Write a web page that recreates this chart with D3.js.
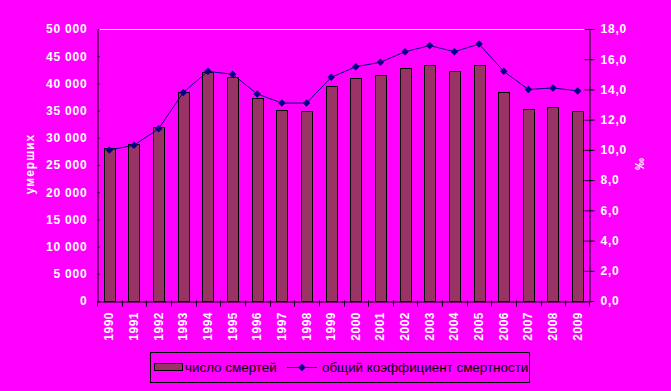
<!DOCTYPE html>
<html><head><meta charset="utf-8">
<script src="https://cdn.jsdelivr.net/npm/d3@7"></script>
<style>
html,body{margin:0;padding:0;background:#FF00FF;}
svg{display:block;}
text{font-family:Arial,"Liberation Sans",sans-serif;}
</style></head><body>
<svg id="c" width="671" height="391"></svg>
<script>
const years = ["1990","1991","1992","1993","1994","1995","1996","1997","1998","1999","2000","2001","2002","2003","2004","2005","2006","2007","2008","2009"];
const deaths = [28100,28900,32000,38400,42100,41200,37400,35200,35000,39500,41000,41500,42900,43400,42300,43300,38500,35300,35700,35000];
const rate = [10.0,10.3,11.4,13.8,15.2,15.0,13.7,13.1,13.1,14.8,15.5,15.8,16.5,16.9,16.5,17.0,15.2,14.0,14.1,13.9];
const leftTicks = [0,5000,10000,15000,20000,25000,30000,35000,40000,45000,50000];
const rightTicks = [0,2,4,6,8,10,12,14,16,18];
const seriesNames = ["число смертей","общий коэффициент смертности"];
const leftTitle = "умерших", rightTitle = "‰";

const svg = d3.select("#c");
const L=97, R=590, T=29, B=301;
const x = d3.scaleBand().domain(years).range([L,R]).paddingInner(0.55).paddingOuter(0.275);
const xb = d3.scaleBand().domain(years).range([L,R]);
const yL = d3.scaleLinear().domain([0,50000]).range([B,T]);
const yR = d3.scaleLinear().domain([0,18]).range([B,T]);

// top border
svg.append("line").attr("x1",L).attr("x2",R).attr("y1",T+0.5).attr("y2",T+0.5).attr("stroke","#fff");

// bars
svg.append("g").selectAll("rect").data(years).join("rect")
 .attr("x",d=>Math.round(x(d))+0.5).attr("y",(d,i)=>Math.round(yL(deaths[i]))+0.5)
 .attr("width",Math.round(x.bandwidth())).attr("height",(d,i)=>B-Math.round(yL(deaths[i])))
 .attr("fill","#993366").attr("stroke","#000").attr("stroke-width",1);

const fmt = v => d3.format(",")(v).replace(/,/g," ");
const fmtR = v => d3.format(".1f")(v).replace(".",",");

// left axis
const gl = svg.append("g").attr("transform",`translate(${L+0.5},0)`)
 .call(d3.axisLeft(yL).tickValues(leftTicks).tickFormat(fmt).tickSize(4).tickSizeOuter(0).tickPadding(6));
gl.selectAll(".tick line").attr("x2",2);
// right axis
const gr = svg.append("g").attr("transform",`translate(${R-0.5},0)`)
 .call(d3.axisRight(yR).tickValues(rightTicks).tickFormat(fmtR).tickSize(5).tickSizeOuter(0).tickPadding(6));
gr.selectAll(".tick line").attr("x1",-5);
// bottom axis
const gb = svg.append("g").attr("transform",`translate(0,${B+0.5})`)
 .call(d3.axisBottom(xb).tickSize(0).tickSizeOuter(0).tickPadding(0));
gb.selectAll(".tick text").remove();
gb.append("g").selectAll("line").data(years.concat(["end"])).join("line")
 .attr("x1",(d,i)=>i<years.length?Math.round(xb(d))+0.5:R-0.5).attr("x2",(d,i)=>i<years.length?Math.round(xb(d))+0.5:R-0.5)
 .attr("y1",-1).attr("y2",5).attr("stroke","#000");
svg.append("g").selectAll("text").data(years).join("text")
 .attr("transform",d=>`translate(${xb(d)+xb.bandwidth()/2+4},${B+11}) rotate(-90)`)
 .attr("text-anchor","end").attr("fill","#fff").attr("font-weight","bold").attr("font-size","12px")
 .attr("letter-spacing","0.5px").text(d=>d);

[gl,gr,gb].forEach(g=>{g.selectAll(".domain").attr("stroke","#000");g.selectAll(".tick line").attr("stroke","#000");
 g.selectAll(".tick text").attr("fill","#fff").attr("font-weight","bold").attr("font-size","12px").attr("letter-spacing","0.8px");});

// line
const cx = d=>xb(d)+xb.bandwidth()/2;
svg.append("path").datum(years).attr("fill","none").attr("stroke","#000080").attr("stroke-width",1)
 .attr("d",d3.line().x(cx).y((d,i)=>yR(rate[i])));
svg.append("g").selectAll("path").data(years).join("path")
 .attr("transform",(d,i)=>`translate(${cx(d)},${yR(rate[i])}) rotate(45)`)
 .attr("d",d3.symbol(d3.symbolSquare,28)).attr("fill","#000080");

// titles
svg.append("text").attr("transform","translate(34,164) rotate(-90)").attr("text-anchor","middle")
 .attr("fill","#fff").attr("font-weight","bold").attr("font-size","12px").attr("letter-spacing","1px").text(leftTitle);
svg.append("text").attr("transform","translate(644,164) rotate(-90)").attr("text-anchor","middle")
 .attr("fill","#fff").attr("font-weight","bold").attr("font-size","12px").text(rightTitle);

// legend
const lg = svg.append("g");
lg.append("rect").attr("x",150.5).attr("y",352.5).attr("width",379).attr("height",30).attr("fill","none").attr("stroke","#000");
lg.append("rect").attr("x",154.5).attr("y",363.5).attr("width",28).attr("height",7).attr("fill","#993366").attr("stroke","#000");
lg.append("text").attr("x",185).attr("y",372).attr("font-size","13.4px").attr("fill","#000").text(seriesNames[0]);
lg.append("line").attr("x1",287).attr("x2",317).attr("y1",367.5).attr("y2",367.5).attr("stroke","#000080");
lg.append("path").attr("transform","translate(302,367.5) rotate(45)").attr("d",d3.symbol(d3.symbolSquare,28)).attr("fill","#000080");
lg.append("text").attr("x",322).attr("y",372).attr("font-size","13.4px").attr("fill","#000").text(seriesNames[1]);
</script></body></html>
